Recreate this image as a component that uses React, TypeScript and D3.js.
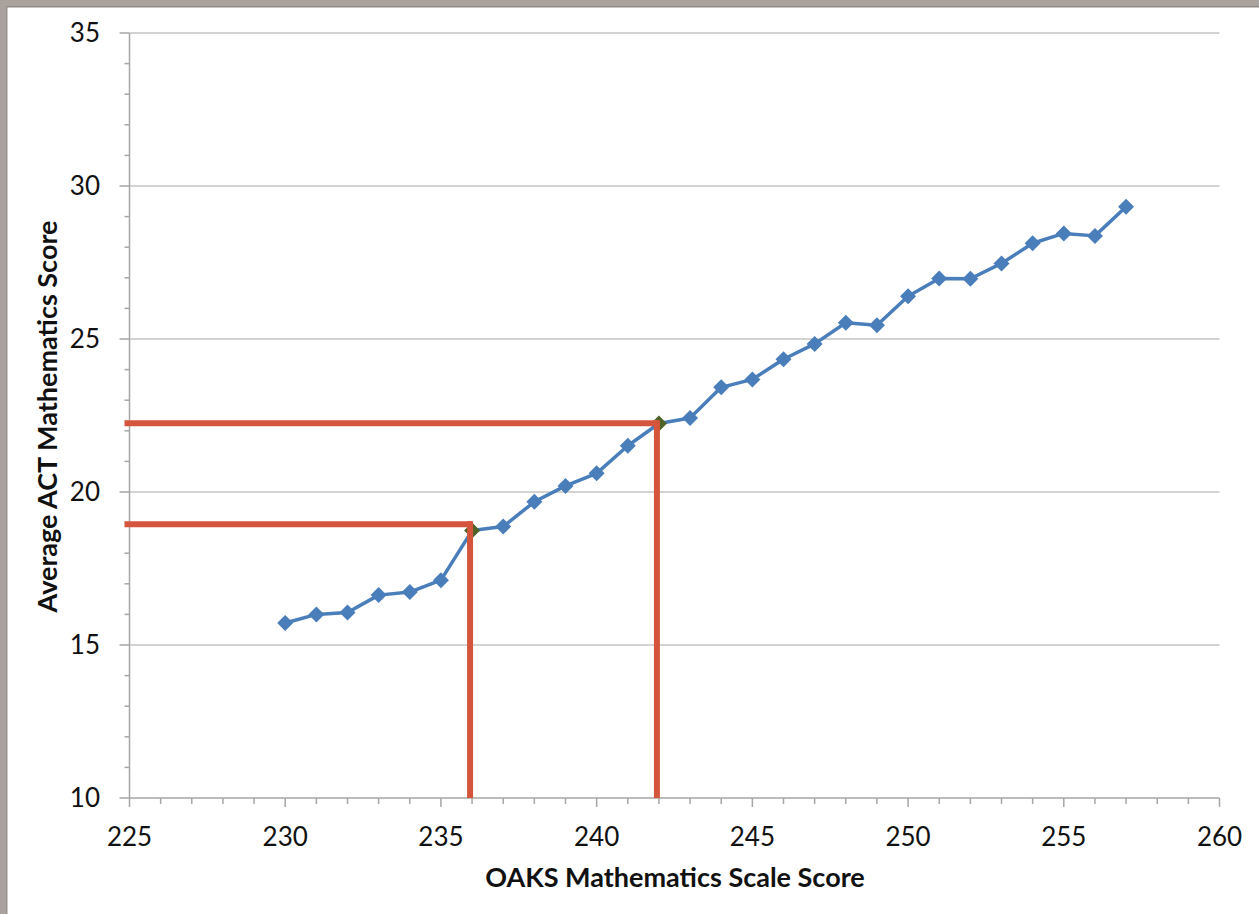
import React from "react";
import * as d3 from "d3";

const oaksScores = [230,231,232,233,234,235,236,237,238,239,240,241,242,243,244,245,246,247,248,249,250,251,252,253,254,255,256,257];
const actAverages = [15.72,16.0,16.06,16.63,16.73,17.12,18.74,18.87,19.68,20.2,20.61,21.51,22.24,22.42,23.42,23.68,24.34,24.84,25.53,25.45,26.4,26.98,26.97,27.47,28.13,28.45,28.37,29.32];
const highlightedScores = [236, 242];
const cutLines = [
  { x: 236, y: 18.95 },
  { x: 242, y: 22.25 },
];
const xTicks = [225,230,235,240,245,250,255,260];
const yTicks = [10,15,20,25,30,35];

const W = 1259, H = 914;
const left = 129.5, right = 1219.5, top = 33, bottom = 798;
const font = "Lato, 'Open Sans', sans-serif";

export default function App() {
  const x = d3.scaleLinear().domain([225, 260]).range([left, right]);
  const y = d3.scaleLinear().domain([10, 35]).range([bottom, top]);
  const pts = oaksScores.map((s, i) => [s, actAverages[i]] as [number, number]);
  const line = d3.line<[number, number]>().x(d => x(d[0])).y(d => y(d[1]))(pts) || "";
  const minorX = d3.range(225, 261, 1);
  const minorY = d3.range(10, 36, 1);
  const diamond = (cx: number, cy: number, r = 8) => `M${cx},${cy - r}L${cx + r},${cy}L${cx},${cy + r}L${cx - r},${cy}Z`;
  const axisColor = "#a6a6a6";
  const gridColor = "#c4c4c4";
  const red = "#d4553b";

  return (
    <svg width={W} height={H} style={{ position: "absolute", left: 0, top: 0, background: "#fff" }}>
      <rect x={0} y={0} width={W} height={H} fill="#fff" />
      {/* frame */}
      <rect x={0} y={0} width={W} height={7} fill="#aaa29c" />
      <rect x={0} y={6} width={W} height={1.5} fill="#8f8a85" />
      <rect x={0} y={0} width={7} height={H} fill="#aaa29c" />
      <rect x={6} y={6} width={1.5} height={H} fill="#9a948f" />

      {/* gridlines */}
      {yTicks.filter(t => t > 10).map(t => (
        <line key={"g" + t} x1={left} x2={right} y1={y(t)} y2={y(t)} stroke={gridColor} strokeWidth={1.5} />
      ))}
      {/* y axis */}
      <line x1={left} x2={left} y1={top} y2={bottom} stroke={axisColor} strokeWidth={1.5} />
      {minorY.map(t => (
        <line key={"yt" + t} x1={t % 5 === 0 ? left - 10 : left - 5} x2={left} y1={y(t)} y2={y(t)} stroke={axisColor} strokeWidth={1.5} />
      ))}
      {/* x axis */}
      <line x1={left} x2={right} y1={bottom} y2={bottom} stroke={axisColor} strokeWidth={1.5} />
      {minorX.map(t => (
        <line key={"xt" + t} x1={x(t)} x2={x(t)} y1={bottom} y2={t % 5 === 0 ? bottom + 9 : bottom + 6} stroke={axisColor} strokeWidth={1.5} />
      ))}

      {/* tick labels */}
      {yTicks.map(t => (
        <text key={"yl" + t} x={100} y={y(t)} dy="0.35em" textAnchor="end" fontFamily={font} fontSize={26} fill="#111">{t}</text>
      ))}
      {xTicks.map(t => (
        <text key={"xl" + t} x={x(t)} y={837} dy="0.35em" textAnchor="middle" fontFamily={font} fontSize={26} fill="#111">{t}</text>
      ))}

      {/* axis titles */}
      <text x={675} y={878} dy="0.35em" textAnchor="middle" fontFamily={font} fontWeight="bold" fontSize={27} fill="#111">OAKS Mathematics Scale Score</text>
      <text transform={`translate(48,${(top + bottom) / 2 + 1}) rotate(-90)`} dy="0.35em" textAnchor="middle" fontFamily={font} fontWeight="bold" fontSize={27} fill="#111">Average ACT Mathematics Score</text>

      {/* series */}
      <path d={line} fill="none" stroke="#4a7ebb" strokeWidth={3.5} strokeLinejoin="round" />
      {pts.map(([s, v]) => (
        <path key={"m" + s} d={diamond(x(s), y(v))} fill={highlightedScores.includes(s) ? "#4f6228" : "#4a7ebb"} />
      ))}

      {/* cut lines */}
      {cutLines.map(c => (
        <g key={"c" + c.x}>
          <line x1={left - 5} x2={x(c.x)} y1={y(c.y)} y2={y(c.y)} stroke={red} strokeWidth={6} />
          <line x1={x(c.x) - 2} x2={x(c.x) - 2} y1={y(c.y) - 3} y2={bottom} stroke={red} strokeWidth={6} />
        </g>
      ))}
    </svg>
  );
}
